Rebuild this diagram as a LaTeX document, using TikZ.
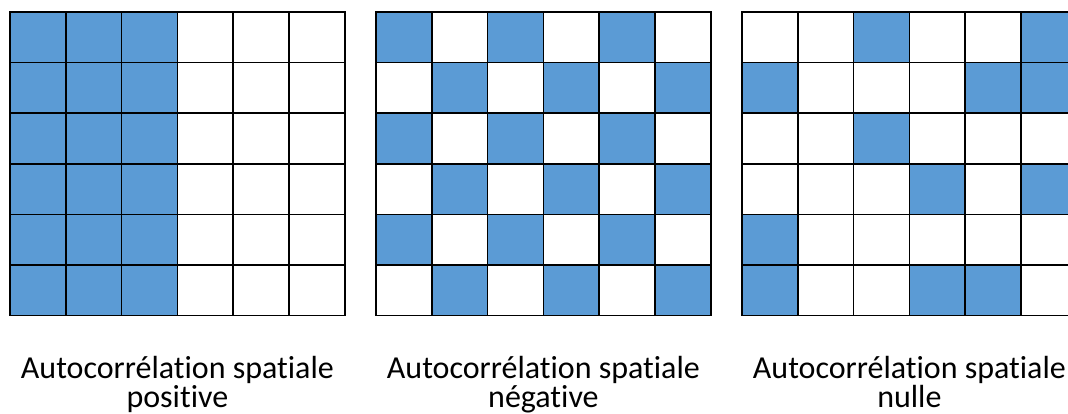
\documentclass[tikz,border=0pt]{standalone}
\usepackage{fontspec}
\setmainfont{Carlito}[Ligatures=NoCommon]
\definecolor{cellblue}{HTML}{5B9BD5}
\tikzset{
  cellfill/.style={fill=cellblue},
  gridline/.style={line width=1.5pt, color=black, line cap=rect},
  caption/.style={font=\fontsize{32}{29}\selectfont, align=center, inner sep=0pt, anchor=base}
}

\begin{document}
\begin{tikzpicture}[x=1pt,y=-1pt]
\useasboundingbox (0,0) rectangle (1068,414);
\clip (0,0) rectangle (1068,414);
%POSITIVE: three blue columns
\foreach \r in {0,...,5}
  \foreach \c in {0,1,2}
    \fill[cellfill] (10+55.8*\c,12+50.6*\r) rectangle ++(55.8,50.6);
%NEGATIVE: checkerboard (row/shift)
\foreach \r/\s in {0/0,1/1,2/0,3/1,4/0,5/1}
  \foreach \c in {0,2,4}
    \fill[cellfill] (376+55.8*\c+55.8*\s,12+50.6*\r) rectangle ++(55.8,50.6);
%NULL: scattered cells (col/row)
\foreach \c/\r in {2/0,5/0,0/1,4/1,5/1,2/2,3/3,5/3,0/4,0/5,3/5,4/5}
  \fill[cellfill] (742+55.8*\c,12+50.6*\r) rectangle ++(55.8,50.6);
%GRID LINES
\foreach \gx in {10,376,742}
  \foreach \k in {0,...,6} {
    \draw[gridline] (\gx+55.8*\k,12) -- ++(0,303.6);
    \draw[gridline] (\gx,12+50.6*\k) -- ++(334.8,0);
  }
%CAPTIONS
\node[caption] (lpos) at (177.4,407) {Autocorrélation spatiale\\positive};
\node[caption] (lneg) at (543.4,407) {Autocorrélation spatiale\\négative};
\node[caption] (lnul) at (909.4,407) {Autocorrélation spatiale\\nulle};
\end{tikzpicture}
\end{document}
